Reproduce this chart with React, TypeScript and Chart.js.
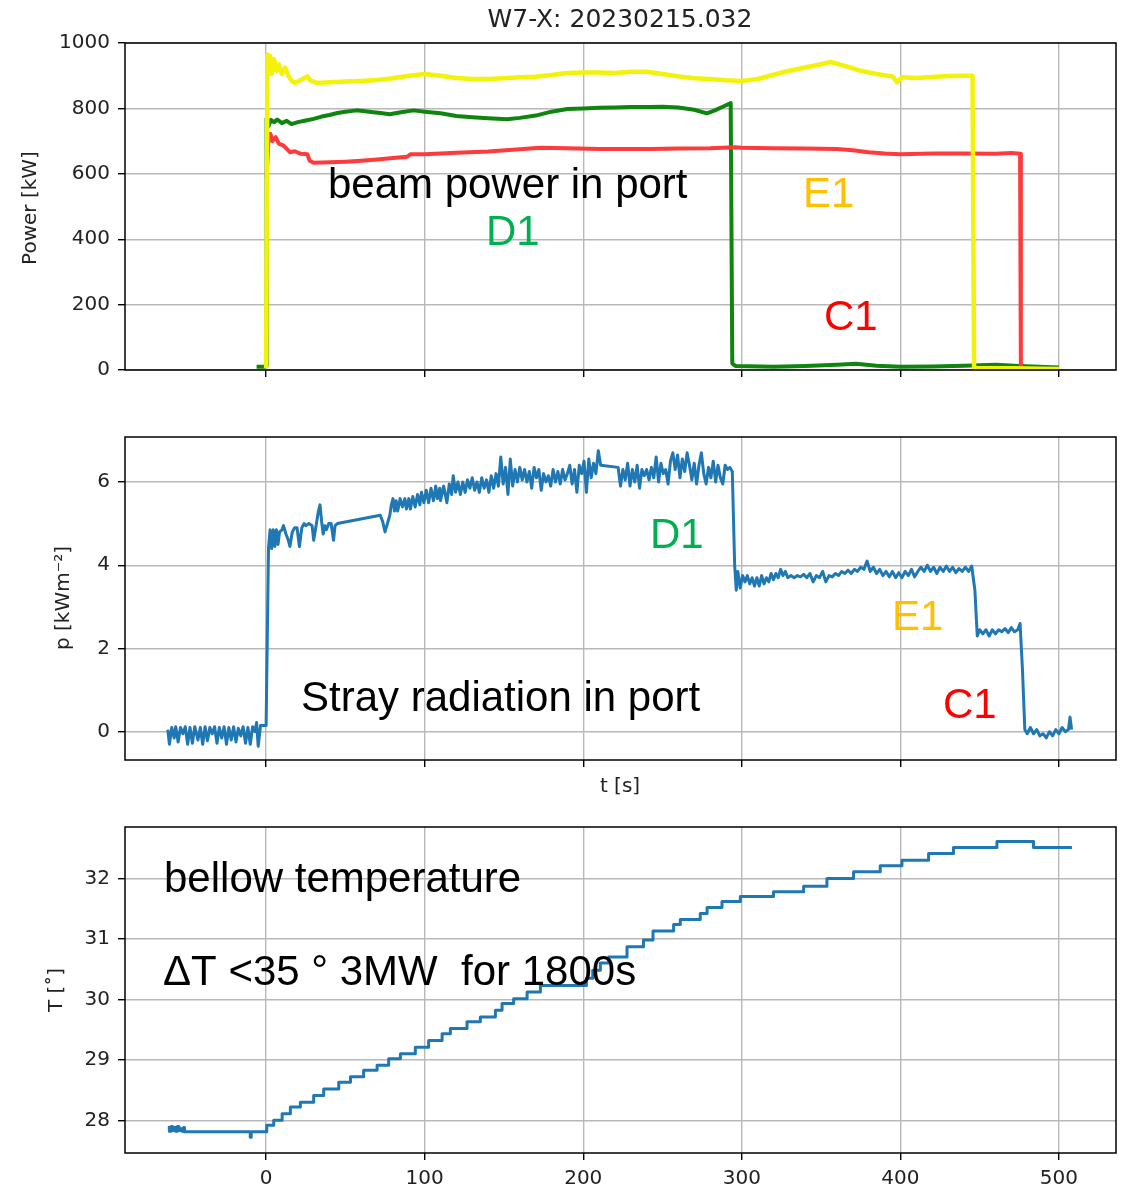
import React, { useEffect, useRef } from 'react';
import { Chart, registerables } from 'chart.js';

Chart.register(...registerables);

type Pt = [number, number];

// Axis ticks
const timeTicks = [0, 100, 200, 300, 400, 500];
const powerTicks = [0, 200, 400, 600, 800, 1000];
const strayTicks = [0, 2, 4, 6];
const tempTicks = [28, 29, 30, 31, 32];

// Beam power per injector port [t s, kW]
const portE1: Pt[] = [
  [0, 5], [0.8, 965], [1.5, 920], [2.5, 960], [3.5, 905], [5, 950], [6.5, 915], [8, 935], [10, 905],
  [12, 925], [14, 900], [16, 885], [18, 878], [20, 882], [23, 890], [26, 898], [28, 885], [32, 878], [40, 880],
  [50, 882], [60, 884], [70, 887], [80, 892], [90, 900], [100, 905], [110, 900], [120, 893], [130, 890], [140, 890],
  [150, 892], [160, 895], [170, 897], [180, 902], [190, 908], [200, 910], [210, 910], [220, 908], [230, 912], [240, 912],
  [250, 905], [260, 898], [270, 892], [280, 890], [290, 886], [300, 884], [310, 890], [320, 903], [330, 915], [340, 925],
  [350, 935], [356, 942], [365, 930], [375, 915], [385, 905], [395, 898], [398, 880], [401, 895], [410, 893], [420, 896],
  [430, 899], [440, 900], [445.5, 900], [446.5, 5], [470, 5], [500, 3],
];

const portD1: Pt[] = [
  [-6, 10], [-1, 10], [0, 12], [0.3, 770], [1.5, 745], [3, 765], [5, 758], [7, 766], [10, 755], [13, 762],
  [16, 752], [20, 758], [25, 763], [30, 768], [35, 775], [40, 780], [45, 786], [50, 790], [57, 794], [65, 790],
  [72, 786], [78, 782], [85, 788], [93, 794], [100, 790], [110, 785], [120, 777], [130, 773], [140, 770], [152, 767],
  [160, 771], [170, 778], [180, 790], [190, 798], [200, 800], [210, 802], [220, 803], [230, 804], [242, 804], [250, 805],
  [260, 803], [270, 796], [278, 785], [283, 794], [288, 805], [293, 816], [294, 20], [296, 12], [320, 10], [340, 12],
  [360, 16], [372, 19], [385, 13], [400, 10], [420, 11], [440, 13], [460, 16], [475, 12], [500, 8],
];

const portC1: Pt[] = [
  [0.3, 590], [1.5, 705], [2.7, 722], [4, 700], [6, 712], [8, 692], [11, 686], [13, 676],
  [15, 666], [18, 669], [22, 661], [26, 660], [27.5, 640], [30, 634], [40, 635], [50, 637], [60, 640], [70, 644],
  [80, 648], [89, 652], [91, 660], [100, 660], [120, 664], [140, 668], [160, 675], [173, 680], [190, 678], [210, 676],
  [242, 676], [260, 677], [280, 678], [296, 681], [300, 680], [320, 678], [340, 677], [360, 676], [370, 672], [380, 666],
  [390, 662], [400, 660], [420, 662], [440, 662], [460, 661], [470, 664], [475.5, 661], [476, 5], [480, 3],
];

// Stray radiation in port [t s, kW/m^2]
const strayRadiation: Pt[] = [
  [-62, 0.05], [-61, -0.3], [-59.5, 0.1], [-58, -0.15], [-57, 0.12], [-55.5, -0.25], [-54, 0.1], [-52.5, -0.05],
  [-51, 0.12], [-49.5, -0.3], [-48, 0.1], [-46.5, -0.28], [-45, 0.12], [-43, -0.2], [-41.5, 0.1], [-40, -0.3],
  [-38.5, 0.12], [-37, -0.22], [-35.5, 0.1], [-34, -0.05], [-32.5, 0.12], [-31, -0.28], [-29.5, 0.1], [-28, -0.15],
  [-26.5, 0.12], [-25, -0.3], [-23.5, 0.1], [-22, -0.2], [-20.5, 0.12], [-19, -0.25], [-17.5, 0.08], [-16, -0.1],
  [-14.5, 0.12], [-13, -0.28], [-11.5, 0.1], [-10, -0.3], [-8.5, 0.12], [-7, 0.0], [-6, 0.22], [-5, -0.35],
  [-3.5, 0.15], [0, 0.15],
  [1.5, 4.4], [2.5, 4.85], [3.5, 4.4], [4.5, 4.85], [5.5, 4.45], [6.5, 4.85], [7.5, 4.5], [8.5, 4.8],
  [10, 4.85], [11, 4.95], [12.5, 4.75], [14, 4.6], [15, 4.45], [16.5, 4.8], [18, 4.9], [19.5, 4.9],
  [21, 4.45], [22.5, 4.9], [24, 5.0], [25, 4.95], [27, 5.0], [29, 4.95], [30, 4.6], [31.5, 4.95],
  [33, 5.3], [34, 5.45], [35, 5.05], [36, 4.75], [37, 4.95], [38, 4.85], [39.5, 5.0], [41, 5.0],
  [42.5, 4.6], [43.5, 4.95], [45, 5.0], [72, 5.2], [73.5, 5.05], [75, 4.8], [76.5, 5.0], [78, 5.2],
  [79, 5.45], [80, 5.6], [81, 5.3], [82, 5.55], [83, 5.3], [84.5, 5.6], [86, 5.4], [87.5, 5.6],
  [88.5, 5.35], [90, 5.6], [91, 5.35], [92.5, 5.65], [94, 5.4], [95.5, 5.7], [97, 5.45], [98, 5.75],
  [99.5, 5.5], [101, 5.8], [102.5, 5.5], [104, 5.85], [105.5, 5.55], [107, 5.9], [108, 5.6], [109.5, 5.85],
  [110, 5.55], [112, 5.9], [114, 5.5], [115.5, 5.95], [117, 5.7], [118, 6.15], [119.5, 5.75], [121, 6.0],
  [122.5, 5.7], [124, 6.0], [125.5, 5.75], [127, 6.05], [128.5, 5.85], [130, 6.1], [131.5, 5.8], [133, 6.0],
  [134.5, 5.75], [136, 6.1], [137.5, 5.85], [139, 6.05], [140.5, 5.75], [142, 6.15], [143.5, 5.85], [145, 6.2],
  [146.5, 5.9], [148, 6.6], [149.5, 5.95], [151, 6.35], [152.5, 5.7], [154, 6.55], [155.5, 5.9], [157, 6.3],
  [158.5, 6.0], [160, 6.35], [161.5, 6.05], [163, 6.3], [164.5, 6.0], [166, 6.25], [167.5, 5.85], [169, 6.35],
  [170.5, 6.1], [172, 6.3], [173.5, 5.8], [175, 6.2], [176.5, 6.0], [178, 6.15], [179.5, 5.9], [181, 6.3],
  [182.5, 6.0], [184, 6.25], [185.5, 5.95], [187, 6.3], [188.5, 6.05], [190, 6.2], [191.5, 6.4], [193, 5.95],
  [194.5, 6.3], [196, 5.75], [197.5, 6.4], [199, 6.2], [200.5, 6.5], [202, 5.75], [203.5, 6.55], [205, 6.1],
  [206.5, 6.45], [208, 6.2], [209.5, 6.75], [211, 6.4], [222, 6.35], [223.5, 5.9], [225, 6.3], [226.5, 6.05],
  [228, 6.45], [229.5, 5.9], [231, 6.3], [232.5, 6.0], [234, 6.4], [235.5, 5.85], [237, 6.3], [238.5, 6.15],
  [240, 6.3], [241.5, 6.05], [243, 6.35], [244.5, 6.1], [246, 6.6], [247.5, 6.0], [249, 6.45], [250.5, 6.2],
  [252, 6.3], [253.5, 5.95], [255, 6.5], [256.5, 6.7], [258, 6.3], [259.5, 6.65], [261, 6.1], [262.5, 6.55],
  [264, 6.25], [265.5, 6.7], [267, 6.4], [268.5, 6.05], [270, 6.45], [271.5, 5.95], [273, 6.4], [274.5, 6.7],
  [276, 6.2], [277.5, 5.95], [279, 6.35], [280.5, 6.1], [282, 6.5], [283.5, 6.0], [285, 6.4], [286.5, 6.1],
  [288, 5.95], [289.5, 6.4], [291, 6.3], [292.5, 6.35], [294, 6.25], [295.5, 4.0], [296.5, 3.4], [297.5, 3.85],
  [299, 3.45], [300.5, 3.75], [302, 3.6], [303.5, 3.75], [305, 3.55], [306.5, 3.7], [308, 3.5], [309.5, 3.7],
  [311, 3.5], [312.5, 3.75], [314, 3.55], [315.5, 3.7], [317, 3.6], [318.5, 3.8], [320, 3.65], [321.5, 3.8],
  [323, 3.7], [324.5, 3.9], [326, 3.75], [327.5, 3.85], [329, 3.7], [331, 3.75], [333, 3.7], [335, 3.75],
  [337, 3.72], [339, 3.78], [341, 3.7], [343, 3.8], [345, 3.6], [347, 3.75], [349, 3.7], [351, 3.85],
  [353, 3.6], [355, 3.75], [357, 3.72], [359, 3.8], [361, 3.75], [363, 3.85], [365, 3.8], [367, 3.88],
  [369, 3.8], [371, 3.9], [373, 3.85], [375, 3.95], [377, 3.9], [379, 4.1], [381, 3.85], [383, 3.95],
  [385, 3.8], [387, 3.9], [389, 3.75], [391, 3.85], [393, 3.72], [395, 3.85], [397, 3.7], [399, 3.82],
  [401, 3.7], [403, 3.85], [405, 3.75], [407, 3.9], [409, 3.72], [411, 3.85], [413, 3.95], [415, 3.85],
  [417, 4.0], [419, 3.85], [421, 3.95], [423, 3.8], [425, 3.95], [427, 3.85], [429, 3.98], [431, 3.85],
  [433, 3.95], [435, 3.82], [437, 3.92], [439, 3.85], [441, 3.95], [443, 3.85], [445, 3.98], [447, 3.4],
  [448.5, 2.3], [450, 2.45], [452, 2.35], [454, 2.45], [456, 2.3], [458, 2.45], [460, 2.35], [462, 2.45],
  [464, 2.4], [466, 2.48], [468, 2.38], [470, 2.5], [472, 2.4], [474, 2.45], [475.5, 2.6], [477, 1.5],
  [478.5, 0.05], [480, -0.05], [482, 0.1], [484, -0.05], [486, 0.05], [488, -0.1], [490, -0.05], [492, -0.15],
  [494, 0.0], [496, -0.1], [498, 0.05], [500, -0.05], [502, 0.1], [504, 0.0], [506, 0.05], [507, 0.35], [508, 0.05],
];

// Bellow temperature [t s, deg C]; each point is the level reached at that time
const bellowTemp: Pt[] = [
  [-62, 27.88], [-61, 27.82], [-60, 27.9], [-59, 27.83], [-58, 27.88], [-57, 27.82], [-56, 27.9], [-55, 27.83],
  [-54, 27.86], [-53, 27.82], [-52, 27.88], [-51.5, 27.81], [-10, 27.72], [-9.4, 27.81], [0.4, 27.92], [4.8, 28.0],
  [10.1, 28.11], [15.3, 28.22], [21.6, 28.3], [30, 28.41], [36.3, 28.52], [45.8, 28.63], [53.2, 28.72], [61.5, 28.83],
  [70, 28.91], [77.3, 29.02], [84.7, 29.1], [94.1, 29.21], [102.5, 29.32], [111, 29.43], [116.2, 29.52], [126.7, 29.63],
  [135.1, 29.71], [144.6, 29.82], [148.8, 29.93], [156.1, 30.01], [164.6, 30.12], [173, 30.23], [202, 30.35], [206, 30.48],
  [210.8, 30.6], [216, 30.7], [227.6, 30.87], [238, 30.98], [244, 31.13], [257, 31.24], [261.2, 31.32], [273.8, 31.42],
  [278.1, 31.52], [287.5, 31.62], [299.1, 31.7], [320, 31.78], [339, 31.87], [353.7, 32.0], [370.5, 32.11], [387.3, 32.21],
  [401, 32.3], [417.8, 32.41], [433.5, 32.51], [460.9, 32.61], [484, 32.51], [508.2, 32.51],
];

const PAGE_W = 1124;
const PLOT_LEFT = 125;
const PLOT_RIGHT = 1116;
const T_MIN = -89;
const T_MAX = 536;

const TICK_FONT = { family: 'DejaVu Sans', size: 20 };
const NOTE_FONT = '42px "Liberation Sans", Arial, sans-serif';
const AXIS_FONT = '20px "DejaVu Sans"';
const TEXT_DARK = '#222222';
const MPL_BLUE = '#1f77b4';

type Note = {
  text: string;
  x: number;
  y: number;
  color: string;
  font: string;
  align?: CanvasTextAlign;
  baseline?: CanvasTextBaseline;
  rotate?: boolean;
};

type Series = { data: Pt[]; color: string; width: number; stepped?: boolean };

type PanelProps = {
  top: number;
  height: number;
  areaTop: number;
  areaBottom: number;
  yMin: number;
  yMax: number;
  yTicks: number[];
  showTimeLabels: boolean;
  series: Series[];
  notes: Note[];
};

function Panel(props: PanelProps) {
  const ref = useRef<HTMLCanvasElement | null>(null);

  useEffect(() => {
    const canvas = ref.current;
    if (!canvas) return;
    const { top, height, areaTop, areaBottom, yMin, yMax, yTicks, showTimeLabels, series, notes } = props;

    const decor = {
      id: 'panelDecor',
      afterDraw(chart: Chart) {
        const { ctx, chartArea: a } = chart;
        ctx.save();
        ctx.strokeStyle = '#000';
        ctx.lineWidth = 1.5;
        ctx.strokeRect(a.left, a.top, a.right - a.left, a.bottom - a.top);
        for (const n of notes) {
          ctx.fillStyle = n.color;
          ctx.font = n.font;
          ctx.textAlign = n.align ?? 'left';
          ctx.textBaseline = n.baseline ?? 'alphabetic';
          const ly = n.y - top;
          if (n.rotate) {
            ctx.save();
            ctx.translate(n.x, ly);
            ctx.rotate(-Math.PI / 2);
            ctx.fillText(n.text, 0, 0);
            ctx.restore();
          } else {
            ctx.fillText(n.text, n.x, ly);
          }
        }
        ctx.restore();
      },
    };

    const gridStyle = {
      color: '#b8b8b8',
      lineWidth: 1.4,
      tickColor: '#000',
      tickLength: 7,
      tickWidth: 1.4,
      drawTicks: true,
    };

    const chart = new Chart(canvas, {
      type: 'line',
      data: {
        datasets: series.map((s) => ({
          data: s.data.map(([x, y]) => ({ x, y })),
          borderColor: s.color,
          borderWidth: s.width,
          pointRadius: 0,
          fill: false,
          tension: 0,
          stepped: s.stepped ? 'before' : false,
          borderJoinStyle: 'round',
        })),
      },
      options: {
        animation: false,
        responsive: false,
        devicePixelRatio: 1,
        events: [],
        layout: { padding: { top: areaTop - top, right: PAGE_W - PLOT_RIGHT, left: 0, bottom: 0 } },
        plugins: { legend: { display: false }, tooltip: { enabled: false }, title: { display: false } },
        scales: {
          x: {
            type: 'linear',
            min: T_MIN,
            max: T_MAX,
            grid: gridStyle,
            border: { display: false },
            ticks: {
              display: showTimeLabels,
              font: TICK_FONT,
              color: TEXT_DARK,
              padding: 7,
              maxRotation: 0,
              callback: (v: number) => String(v),
            },
            afterBuildTicks: (scale: any) => {
              scale.ticks = timeTicks.map((v) => ({ value: v }));
            },
            afterFit: (scale: any) => {
              scale.height = top + height - areaBottom;
            },
          },
          y: {
            type: 'linear',
            min: yMin,
            max: yMax,
            grid: gridStyle,
            border: { display: false },
            ticks: { font: TICK_FONT, color: TEXT_DARK, padding: 8, callback: (v: number) => String(v) },
            afterBuildTicks: (scale: any) => {
              scale.ticks = yTicks.map((v) => ({ value: v }));
            },
            afterFit: (scale: any) => {
              scale.width = PLOT_LEFT;
            },
          },
        },
      },
      plugins: [decor],
    } as any);

    return () => chart.destroy();
  }, []);

  return (
    <canvas
      ref={ref}
      width={PAGE_W}
      height={props.height}
      style={{ position: 'absolute', left: 0, top: props.top, width: PAGE_W, height: props.height }}
    />
  );
}

export default function App() {
  return (
    <div style={{ position: 'absolute', left: 0, top: 0, width: PAGE_W, height: 1187, background: '#fff' }}>
      <Panel
        top={0}
        height={400}
        areaTop={43}
        areaBottom={370}
        yMin={0}
        yMax={1000}
        yTicks={powerTicks}
        showTimeLabels={false}
        series={[
          { data: portE1, color: '#f2f20a', width: 4.5 },
          { data: portC1, color: '#ff3a3a', width: 4 },
          { data: portD1, color: '#0f850f', width: 4 },
        ]}
        notes={[
          { text: 'W7-X: 20230215.032', x: 620, y: 20, color: TEXT_DARK, font: '25px "DejaVu Sans"', align: 'center', baseline: 'middle' },
          { text: 'Power [kW]', x: 31, y: 208, color: TEXT_DARK, font: AXIS_FONT, align: 'center', baseline: 'middle', rotate: true },
          { text: 'beam power in port', x: 328, y: 198, color: '#000', font: NOTE_FONT },
          { text: 'D1', x: 486, y: 245, color: '#00b050', font: NOTE_FONT },
          { text: 'E1', x: 803, y: 207, color: '#ffc000', font: NOTE_FONT },
          { text: 'C1', x: 824, y: 330, color: '#ff0000', font: NOTE_FONT },
        ]}
      />
      <Panel
        top={400}
        height={400}
        areaTop={437}
        areaBottom={760}
        yMin={-0.68}
        yMax={7.08}
        yTicks={strayTicks}
        showTimeLabels={false}
        series={[{ data: strayRadiation, color: MPL_BLUE, width: 3 }]}
        notes={[
          { text: 'p [kWm\u207B\u00B2]', x: 64, y: 598, color: TEXT_DARK, font: AXIS_FONT, align: 'center', baseline: 'middle', rotate: true },
          { text: 't [s]', x: 620, y: 787, color: TEXT_DARK, font: AXIS_FONT, align: 'center', baseline: 'middle' },
          { text: 'Stray radiation in port', x: 301, y: 711, color: '#000', font: NOTE_FONT },
          { text: 'D1', x: 650, y: 548, color: '#00b050', font: NOTE_FONT },
          { text: 'E1', x: 892, y: 630, color: '#ffc000', font: NOTE_FONT },
          { text: 'C1', x: 943, y: 718, color: '#ff0000', font: NOTE_FONT },
        ]}
      />
      <Panel
        top={800}
        height={387}
        areaTop={827}
        areaBottom={1153}
        yMin={27.46}
        yMax={32.85}
        yTicks={tempTicks}
        showTimeLabels={true}
        series={[{ data: bellowTemp, color: MPL_BLUE, width: 3, stepped: true }]}
        notes={[
          { text: 'T [\u02DA]', x: 57, y: 990, color: TEXT_DARK, font: AXIS_FONT, align: 'center', baseline: 'middle', rotate: true },
          { text: 'bellow temperature', x: 164, y: 892, color: '#000', font: NOTE_FONT },
          { text: '\u0394T <35 \u00B0 3MW  for 1800s', x: 163, y: 985, color: '#000', font: NOTE_FONT },
        ]}
      />
    </div>
  );
}
